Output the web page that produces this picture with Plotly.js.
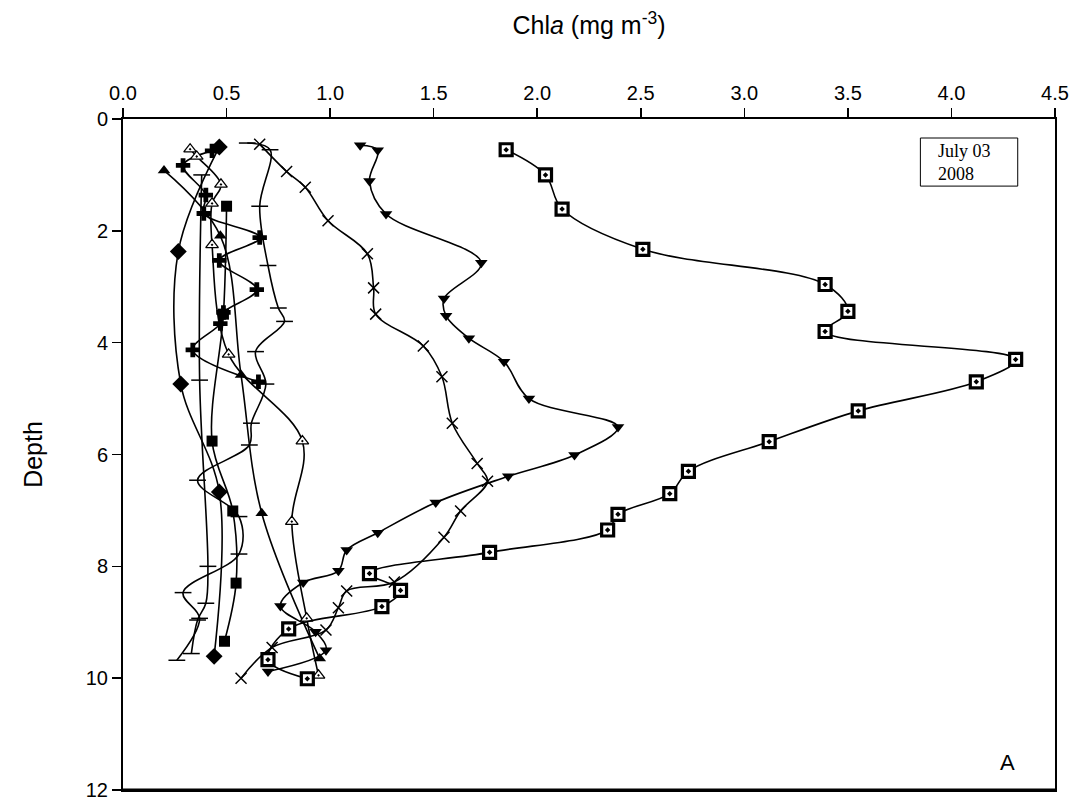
<!DOCTYPE html>
<html>
<head>
<meta charset="utf-8">
<script src="https://cdn.plot.ly/plotly-3.0.1.min.js"></script>
<style>html,body{margin:0;padding:0;background:#fff}#chart{width:1083px;height:805px}</style>
</head>
<body>
<div id="chart"></div>
<script>
// Chla profiles (x = Chla mg m-3, y = depth m)
const sqDotX   = [1.85, 2.04, 2.12, 2.51, 3.39, 3.50, 3.39, 4.31, 4.12, 3.55, 3.12, 2.73, 2.64, 2.39, 2.34, 1.77, 1.19, 1.34, 1.25, 0.80, 0.70, 0.89];
const sqDotY   = [0.55, 1.00, 1.61, 2.33, 2.96, 3.44, 3.80, 4.30, 4.70, 5.22, 5.77, 6.30, 6.70, 7.07, 7.35, 7.75, 8.13, 8.43, 8.72, 9.12, 9.67, 10.01];

const triDownX = [1.145, 1.23, 1.19, 1.27, 1.73, 1.55, 1.56, 1.67, 1.84, 1.96, 2.39, 2.18, 1.86, 1.51, 1.23, 1.08, 1.04, 0.87, 0.76, 0.93, 0.98, 0.70];
const triDownY = [0.47, 0.56, 1.11, 1.70, 2.57, 3.21, 3.52, 3.92, 4.34, 5.00, 5.51, 6.01, 6.39, 6.86, 7.40, 7.71, 8.08, 8.29, 8.71, 9.17, 9.50, 9.88];

const crossX   = [0.66, 0.79, 0.88, 0.99, 1.18, 1.21, 1.22, 1.45, 1.54, 1.59, 1.71, 1.76, 1.63, 1.55, 1.31, 1.08, 1.04, 0.98, 0.72, 0.57];
const crossY   = [0.45, 0.94, 1.22, 1.82, 2.41, 3.02, 3.49, 4.06, 4.61, 5.44, 6.16, 6.48, 7.01, 7.48, 8.28, 8.44, 8.74, 9.14, 9.45, 10.00];

const dashX    = [0.60, 0.71, 0.66, 0.70, 0.75, 0.78, 0.64, 0.69, 0.62, 0.61, 0.36, 0.56, 0.56, 0.29, 0.37, 0.26];
const dashY    = [0.43, 0.55, 1.56, 2.62, 3.38, 3.62, 4.16, 4.74, 5.44, 5.83, 6.46, 7.11, 7.78, 8.47, 8.93, 9.68];

const dash2X   = [0.38, 0.37, 0.41, 0.40, 0.36, 0.33];
const dash2Y   = [1.00, 4.67, 8.00, 8.66, 8.96, 9.56];

const triUpX   = [0.198, 0.47, 0.57, 0.67, 0.95];
const triUpY   = [0.92, 2.09, 4.58, 7.05, 9.65];

const triOpenX = [0.324, 0.356, 0.473, 0.43, 0.43, 0.51, 0.866, 0.815, 0.887, 0.944];
const triOpenY = [0.54, 0.67, 1.17, 1.51, 2.25, 4.21, 5.76, 7.20, 8.93, 9.95];

const diamondX = [0.465, 0.267, 0.279, 0.465, 0.44];
const diamondY = [0.50, 2.37, 4.74, 6.67, 9.61];

const squareX  = [0.50, 0.485, 0.43, 0.53, 0.546, 0.49];
const squareY  = [1.56, 3.49, 5.76, 7.01, 8.30, 9.34];

const plusX    = [0.43, 0.29, 0.40, 0.39, 0.66, 0.465, 0.646, 0.485, 0.47, 0.337, 0.654];
const plusY    = [0.57, 0.83, 1.36, 1.69, 2.12, 2.53, 3.05, 3.46, 3.66, 4.13, 4.70];

const xTicks = [0, 0.5, 1, 1.5, 2, 2.5, 3, 3.5, 4, 4.5];
const yTicks = [0, 2, 4, 6, 8, 10, 12];

const lineStyle = {color: '#000', width: 1.6, shape: 'spline', smoothing: 1};
function tr(x, y, marker) {
  return {x: x, y: y, type: 'scatter', mode: 'lines+markers', line: lineStyle, marker: marker, showlegend: false, cliponaxis: false};
}

const data = [
  tr(dashX, dashY, {symbol: 'line-ew-open', size: 12, color: '#000', line: {color: '#000', width: 1.5}}),
  tr(dash2X, dash2Y, {symbol: 'line-ew-open', size: 12, color: '#000', line: {color: '#000', width: 1.5}}),
  tr(crossX, crossY, {symbol: 'x-thin-open', size: 11, color: '#000', line: {color: '#000', width: 1.5}}),
  tr(diamondX, diamondY, {symbol: 'diamond', size: 13, color: '#000'}),
  tr(squareX, squareY, {symbol: 'square', size: 11, color: '#000'}),
  tr(plusX, plusY, {symbol: 'cross', size: 12, color: '#000'}),
  tr(triUpX, triUpY, {symbol: 'triangle-up', size: 11, color: '#000'}),
  tr(triOpenX, triOpenY, {symbol: 'triangle-up-dot', size: 11, color: '#fff', line: {color: '#000', width: 1.3}}),
  tr(triDownX, triDownY, {symbol: 'triangle-down', size: 11, color: '#000'}),
  tr(sqDotX, sqDotY, {symbol: 'square-dot', size: 12, color: '#fff', line: {color: '#000', width: 3.2}})
];

const layout = {
  width: 1083, height: 805,
  margin: {l: 123, r: 28, t: 119, b: 15},
  paper_bgcolor: '#fff', plot_bgcolor: '#fff',
  font: {family: 'Liberation Sans, Arial, sans-serif', color: '#000', size: 20},
  showlegend: false,
  xaxis: {
    side: 'top', range: [0, 4.5], tickvals: xTicks, ticktext: xTicks.map(v => v.toFixed(1)),
    ticks: 'outside', ticklen: 9, tickwidth: 1.5, tickcolor: '#000',
    showline: true, linewidth: 2, linecolor: '#000', mirror: true,
    showgrid: false, zeroline: false,
    tickfont: {size: 20},
    title: {text: 'Chl<i>a</i> (mg m<sup>-3</sup>)', font: {size: 25}, standoff: 40}
  },
  yaxis: {
    range: [12, 0], tickvals: yTicks, ticktext: yTicks.map(String),
    ticks: 'outside', ticklen: 9, tickwidth: 1.5, tickcolor: '#000',
    showline: true, linewidth: 2, linecolor: '#000', mirror: true,
    showgrid: false, zeroline: false,
    tickfont: {size: 20},
    title: {text: 'Depth', font: {size: 25}, standoff: 36}
  },
  shapes: [
    {type: 'rect', xref: 'x', yref: 'y', x0: 3.85, x1: 4.32, y0: 0.34, y1: 1.20,
     line: {color: '#000', width: 1}, fillcolor: 'rgba(0,0,0,0)'},
    {type: 'line', xref: 'paper', yref: 'y', x0: 0, x1: 1, y0: 12, y1: 12,
     line: {color: '#000', width: 3}}
  ],
  annotations: [
    {x: 3.925, y: 0.77, xref: 'x', yref: 'y', xanchor: 'left', text: 'July 03<br>2008', showarrow: false,
     align: 'left', font: {family: 'Liberation Serif, Times New Roman, serif', size: 18, color: '#000'}},
    {x: 4.27, y: 11.5, xref: 'x', yref: 'y', text: 'A', showarrow: false,
     font: {size: 22, color: '#000'}}
  ]
};

Plotly.newPlot('chart', data, layout, {staticPlot: true, displayModeBar: false});
</script>
</body>
</html>
